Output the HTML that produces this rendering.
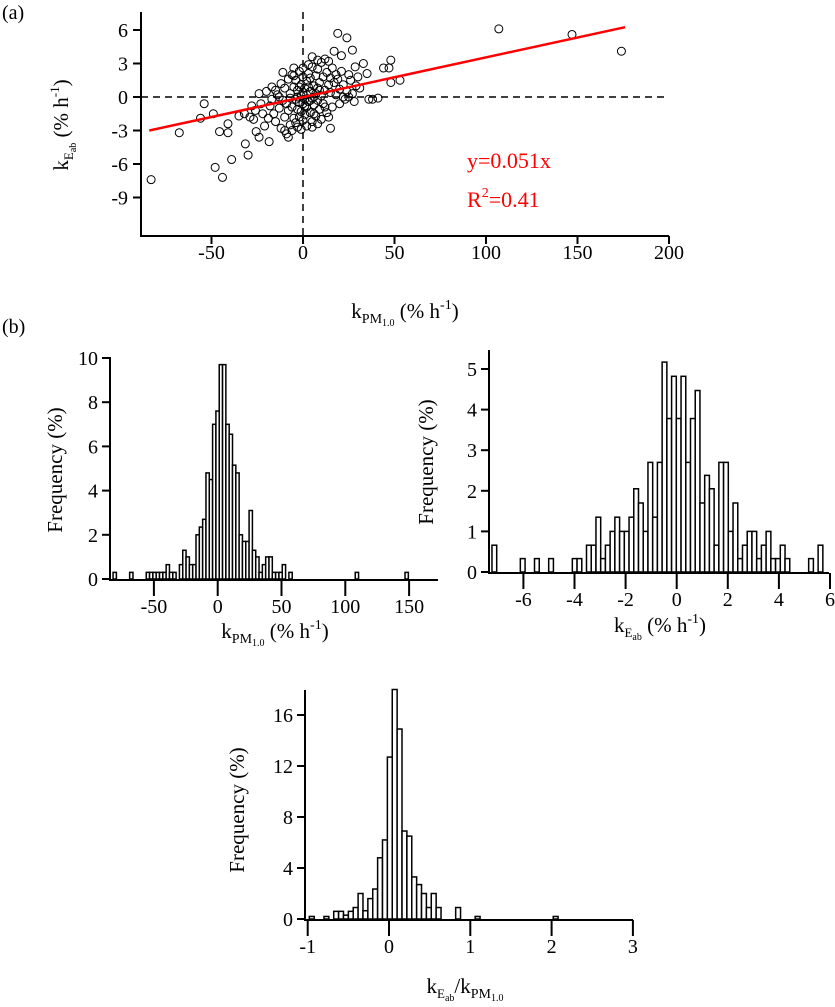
<!DOCTYPE html>
<html><head><meta charset="utf-8"><style>
html,body{margin:0;padding:0;background:#fff;}
svg{display:block;}
svg text{font-family:"Liberation Serif",serif;}
.blk{fill:#000;}
.red{fill:#f00;}
</style></head><body>
<svg id="fig" width="835" height="1007" viewBox="0 0 835 1007" xmlns="http://www.w3.org/2000/svg" style="position:absolute;left:0;top:0">
<text x="2" y="19" font-size="20" class="blk">(a)</text>
<text x="2" y="333" font-size="20" class="blk">(b)</text>
<g id="scatter"></g>
<g id="h1"></g>
<g id="h2"></g>
<g id="h3"></g>
</svg>
<script>
// ---- scatter data ----
const scatterX = [-83,-67.6,-54,-56,-49,-45.6,-41,-41,-48,-44,-39,-30,-31.5,-35,-18.5,-24,-25.6,107,147,174,19,24,27,17,21,48,47,44,48,53,33,28.5,35,38,41,36,15,5,8,-5,
-20,-18,-17,-16,-15,-14,-13,-12,-12,-11,-10,-10,-9,-9,-8,-8,-7,-7,-6,-6,-5,-5,-4,-4,-3,-3,-3,-2,-2,-2,-1,-1,-1,0,0,0,0,1,1,1,2,2,2,3,3,3,4,4,4,5,5,5,6,6,7,7,7,8,8,8,9,9,10,10,11,11,12,12,13,13,14,14,15,15,16,16,17,18,18,19,20,21,22,23,24,25,26,27,28,29,30,31,-22,-24,-21,-19,-26,-28,-23,-15,-11,-6,-4,2,6,10,12,20,-8,-10,-13,0,3,-1,5,8,-5,-17,-27,-29,-32,14,22,25,-3,6,9,-7,1,4,-2];
const scatterY = [-7.4,-3.2,-0.6,-1.9,-1.5,-3.1,-3.2,-2.4,-6.3,-7.2,-5.6,-5.2,-4.2,-1.7,-4.0,-3.6,-3.1,6.1,5.6,4.1,5.7,5.3,4.2,4.1,3.7,3.3,2.6,2.6,1.3,1.5,3.0,2.7,2.1,-0.2,-0.1,-0.2,-2.8,-2.7,-2.4,2.6,
0.5,-0.8,0.9,-1.5,-2.2,0.2,-1.0,-2.8,1.2,-0.3,-1.8,0.8,-3.3,-0.6,1.6,-1.2,-2.5,0.3,2.0,-0.9,-1.9,0.9,-0.2,1.5,-2.7,-1.1,0.6,2.3,-0.5,-1.8,0.1,1.1,-1.3,-0.6,0.4,1.8,-2.1,0.8,-0.2,-1.6,1.4,0.2,-0.9,2.1,-0.4,0.9,-1.4,0.5,1.7,-0.1,2.7,-2.2,1.0,-0.7,0.3,1.9,-1.7,-0.3,2.5,0.8,1.3,-1.1,3.1,0.1,1.8,-0.6,3.4,0.6,2.2,-1.4,1.1,3.2,0.4,1.7,-0.9,2.6,1.3,0.2,2.0,1.6,0.7,2.3,1.1,-0.2,0.5,2.0,1.5,0.3,-0.4,1.0,1.8,0.8,-1.5,0.3,-2.6,-1.9,-1.2,-0.8,-0.6,0.6,2.2,-3.0,-2.3,-2.6,-1.5,-2.0,-0.9,-0.6,-3.6,-3.0,0.0,2.6,2.9,-2.9,3.6,3.3,1.9,-0.2,-2.0,-1.8,-1.5,-1.8,0.0,0.0,0.0,0.0,0.6,-0.1,-0.8,-0.3,0.9];
const fitX = [-84,176];
const fitY = [-3.0,6.25];
const scXTicks = [-50,0,50,100,150,200];
const scYTicks = [6,3,0,-3,-6,-9];

// ---- histogram 1 (k PM1.0) ----
const h1Start = -82, h1Width = 2.6;
const h1Idx  = [0,5,10,11,12,13,14,15,16,17,18,20,21,22,23,24,25,26,27,28,29,30,31,32,33,34,35,36,37,38,39,40,41,42,43,44,45,46,47,48,49,50,51,53,73,88];
const h1Freq = [0.3,0.3,0.3,0.3,0.3,0.3,0.3,0.3,0.65,0.3,0.3,0.65,1.3,1.0,0.65,0.65,2.0,2.35,2.7,4.8,4.5,7.0,7.6,9.7,9.7,7.0,6.55,5.15,4.8,2.0,1.7,1.7,3.1,1.3,1.0,0.3,0.65,1.0,1.0,0.3,0.3,0.3,0.65,0.3,0.3,0.3];
const h1XTicks = [-50,0,50,100,150];
const h1YTicks = [0,2,4,6,8,10];

// ---- histogram 2 (k Eab) ----
const h2Start = -7.23, h2Width = 0.185;
const h2Idx  = [0,6,9,12,17,18,20,21,22,23,24,25,26,27,28,29,30,31,32,33,34,35,36,37,38,39,40,41,42,43,44,45,46,47,48,49,50,51,52,53,54,55,56,57,58,59,60,61,62,67,69];
const h2Freq = [0.66,0.33,0.33,0.33,0.33,0.33,0.66,0.66,1.35,0.33,0.66,1.0,1.35,1.0,1.0,1.35,2.05,1.7,1.0,2.7,1.35,2.7,5.17,3.78,4.82,3.78,4.82,2.7,3.78,4.47,1.7,2.38,2.05,0.66,2.7,2.7,1.0,1.7,0.33,0.66,1.0,1.0,0.33,0.66,1.0,0.33,0.33,0.66,0.33,0.33,0.66];
const h2XTicks = [-6,-4,-2,0,2,4,6];
const h2YTicks = [0,1,2,3,4,5];

// ---- histogram 3 (ratio) ----
const h3Start = -0.98, h3Width = 0.06;
const h3Idx  = [0,3,5,6,7,8,9,10,11,12,13,14,15,16,17,18,19,20,21,22,23,24,25,26,30,34,50];
const h3Freq = [0.2,0.2,0.6,0.6,0.3,0.6,0.9,2.0,0.65,1.6,2.35,4.8,6.2,12.7,18.0,14.9,6.9,6.5,3.3,2.7,2.0,0.9,2.0,0.9,0.9,0.2,0.2];
const h3XTicks = [-1,0,1,2,3];
const h3YTicks = [0,4,8,12,16];

const NS = "http://www.w3.org/2000/svg";
function mk(parent, tag, attrs){const e=document.createElementNS(NS,tag);for(const k in attrs)e.setAttribute(k,attrs[k]);parent.appendChild(e);return e;}
function lin(d0,d1,r0,r1){return v=>r0+(v-d0)*(r1-r0)/(d1-d0);}

// ===== scatter =====
(function(){
  const g=document.getElementById('scatter');
  const X=lin(0,200,303,669), Y=lin(0,6,97,30);
  const xl=141, xr=669, yb=236, yt=12;
  let e=mk(g,'line',{x1:xl,x2:xr,y1:Y(0),y2:Y(0),stroke:'#000','stroke-width':1.5,'stroke-dasharray':'7,5'});
  
  
  e=mk(g,'line',{x1:X(0),x2:X(0),y1:yt,y2:yb,stroke:'#000','stroke-width':1.5,'stroke-dasharray':'7,5'});
  
  
  for(let i=0;i<scatterX.length;i++){
    const c=mk(g,'circle',{cx:X(scatterX[i]),cy:Y(scatterY[i]),r:4,fill:'none',stroke:'#000','stroke-width':1});
    
    
  }
  e=mk(g,'line',{x1:X(fitX[0]),y1:Y(fitY[0]),x2:X(fitX[1]),y2:Y(fitY[1]),stroke:'#f00','stroke-width':2.5});
  
  
  e=mk(g,'path',{d:`M${xl},${yt} V${yb} H${xr}`,fill:'none',stroke:'#000','stroke-width':2});
  
  
  scYTicks.forEach(v=>{
    const t=mk(g,'line',{x1:xl-8,x2:xl,y1:Y(v),y2:Y(v),stroke:'#000','stroke-width':2});
    
    
    const l=mk(g,'text',{x:xl-13,y:Y(v)+7,'font-size':20,'text-anchor':'end',class:'blk'});l.textContent=v;
    
    
  });
  scXTicks.forEach(v=>{
    const t=mk(g,'line',{x1:X(v),x2:X(v),y1:yb,y2:yb+8,stroke:'#000','stroke-width':2});
    
    
    const l=mk(g,'text',{x:X(v),y:yb+23,'font-size':20,'text-anchor':'middle',class:'blk'});l.textContent=v;
    
    
  });
})();

function hist(id, start, width, idx, freq, xt, yt, X, Y, box){
  const g=document.getElementById(id);
  for(let i=0;i<idx.length;i++){
    const a=start+idx[i]*width;
    const r=mk(g,'rect',{x:X(a),y:Y(freq[i]),width:X(a+width)-X(a),height:Y(0)-Y(freq[i]),fill:'#fff',stroke:'#000','stroke-width':1.5});
    
    
  }
  let e=mk(g,'path',{d:`M${box.xl},${box.yt} V${box.yb} H${box.xr}`,fill:'none',stroke:'#000','stroke-width':2});
  
  
  yt.forEach(v=>{
    const t=mk(g,'line',{x1:box.xl-8,x2:box.xl,y1:Y(v),y2:Y(v),stroke:'#000','stroke-width':2});
    
    
    const l=mk(g,'text',{x:box.xl-12,y:Y(v)+7,'font-size':20,'text-anchor':'end',class:'blk'});l.textContent=v;
    
    
  });
  xt.forEach(v=>{
    const t=mk(g,'line',{x1:X(v),x2:X(v),y1:box.yb,y2:box.yb+16,stroke:'#000','stroke-width':2});
    
    
    const l=mk(g,'text',{x:X(v),y:box.yb+33,'font-size':20,'text-anchor':'middle',class:'blk'});l.textContent=v;
    
    
  });
}
hist('h1',h1Start,h1Width,h1Idx,h1Freq,h1XTicks,h1YTicks,lin(0,50,217.7,281.5),lin(0,10,579,358),{xl:110,xr:438,yt:357,yb:580});
hist('h2',h2Start,h2Width,h2Idx,h2Freq,h2XTicks,h2YTicks,lin(0,2,676.7,727.8),lin(0,5,572,369),{xl:489,xr:829,yt:350,yb:573});
hist('h3',h3Start,h3Width,h3Idx,h3Freq,h3XTicks,h3YTicks,lin(0,1,389,470.3),lin(0,16,919,715),{xl:305,xr:633,yt:690,yb:920});
</script>
<svg style="position:absolute;left:0;top:0" width="835" height="1007" xmlns="http://www.w3.org/2000/svg">
<text x="467" y="168" font-size="22" class="red" style="fill:#f00">y=0.051x</text>
<text x="467" y="207" font-size="22" class="red" style="fill:#f00">R<tspan font-size="14" dy="-10">2</tspan><tspan dy="10">=0.41</tspan></text>
<text class="blk" transform="translate(68,125) rotate(-90)" font-size="21" text-anchor="middle">k<tspan font-size="13" dy="5">E</tspan><tspan font-size="10" dy="3">ab</tspan><tspan dy="-8"> (% h</tspan><tspan font-size="13" dy="-9">-1</tspan><tspan dy="9">)</tspan></text>
<text class="blk" x="405" y="318" font-size="21" text-anchor="middle">k<tspan font-size="14" dy="5">PM</tspan><tspan font-size="10" dy="3">1.0</tspan><tspan dy="-8"> (% h</tspan><tspan font-size="14" dy="-9">-1</tspan><tspan dy="9">)</tspan></text>
<text class="blk" transform="translate(62,470) rotate(-90)" font-size="21" text-anchor="middle">Frequency (%)</text>
<text class="blk" x="275" y="638" font-size="21" text-anchor="middle">k<tspan font-size="14" dy="5">PM</tspan><tspan font-size="10" dy="3">1.0</tspan><tspan dy="-8"> (% h</tspan><tspan font-size="14" dy="-9">-1</tspan><tspan dy="9">)</tspan></text>
<text class="blk" transform="translate(433,462) rotate(-90)" font-size="21" text-anchor="middle">Frequency (%)</text>
<text class="blk" x="660" y="632" font-size="21" text-anchor="middle">k<tspan font-size="13" dy="5">E</tspan><tspan font-size="10" dy="3">ab</tspan><tspan dy="-8"> (% h</tspan><tspan font-size="14" dy="-9">-1</tspan><tspan dy="9">)</tspan></text>
<text class="blk" transform="translate(244,810) rotate(-90)" font-size="21" text-anchor="middle">Frequency (%)</text>
<text class="blk" x="465" y="993" font-size="21" text-anchor="middle">k<tspan font-size="13" dy="5">E</tspan><tspan font-size="10" dy="3">ab</tspan><tspan dy="-8">/k</tspan><tspan font-size="14" dy="5">PM</tspan><tspan font-size="10" dy="3">1.0</tspan></text>
</svg>
</body></html>
